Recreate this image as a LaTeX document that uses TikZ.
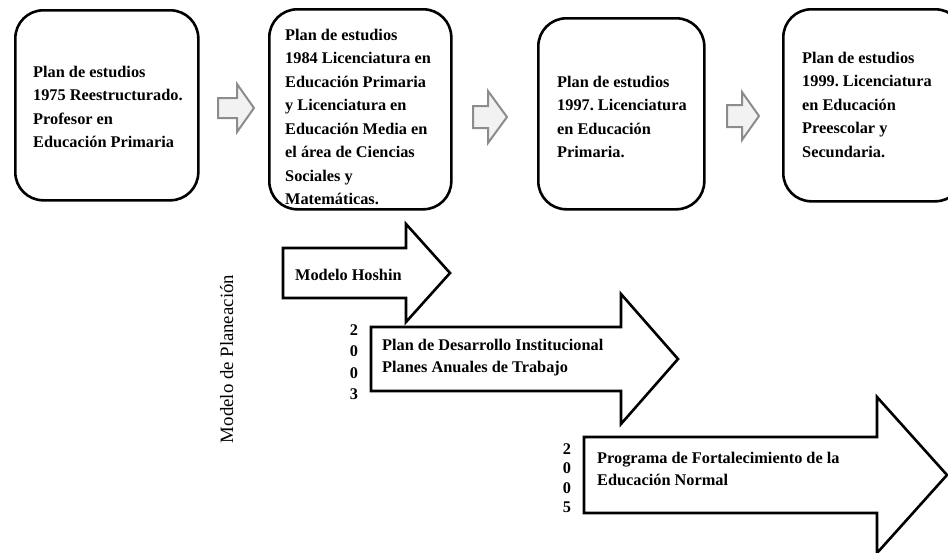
\documentclass[tikz,border=0pt]{standalone}
\usepackage{fontspec}
\newfontfamily\tnr{Liberation Serif}
\newcommand\tallstrut{\rule{0pt}{12pt}}
\begin{document}
\frenchspacing
\begin{tikzpicture}[x=1pt,y=-1pt,
  stage/.style={draw=black, line width=2.6pt, rounded corners=28pt, fill=white,
    anchor=north west, inner sep=0pt},
  stagetext/.style={anchor=north west, align=left, inner sep=0pt,
    font=\tnr\bfseries\fontsize{16.3}{23.5}\selectfont},
  arrowtext/.style={anchor=north west, align=left, inner sep=0pt,
    font=\tnr\bfseries\fontsize{16.3}{22}\selectfont},
  yeartext/.style={anchor=north, align=center, inner sep=0pt,
    font=\tnr\bfseries\fontsize{16.3}{#1}\selectfont},
  steparrow/.style={draw=black!45, fill=black!5, line width=2pt, line join=miter},
  blockarrow/.style={draw=black, fill=white, line width=2.6pt, line join=miter}
]
\useasboundingbox (0,0) rectangle (948,552);
\clip (0,0) rectangle (948,552);

% study-plan boxes
\node[stage, minimum width=183pt, minimum height=190pt] (p1975) at (14,9) {};
\node[stage, minimum width=182pt, minimum height=200pt] (p1984) at (268,8) {};
\node[stage, minimum width=166pt, minimum height=191pt] (p1997) at (537,17) {};
\node[stage, minimum width=180pt, minimum height=192pt] (p1999) at (782,8) {};

\node[stagetext] (t1975) at (33,65) {\tallstrut Plan de estudios\\1975 Reestructurado.\\Profesor en\\Educación Primaria};
\node[stagetext] (t1984) at (285,28) {\tallstrut Plan de estudios\\1984 Licenciatura en\\Educación Primaria\\y Licenciatura en\\Educación Media en\\el área de Ciencias\\Sociales y\\Matemáticas.};
\node[stagetext] (t1997) at (557,75) {\tallstrut Plan de estudios\\1997. Licenciatura\\en Educación\\Primaria.};
\node[stagetext] (t1999) at (802,51) {\tallstrut Plan de estudios\\1999. Licenciatura\\en Educación\\Preescolar y\\Secundaria.};

% grey step arrows between the boxes
\draw[steparrow] (218,98) -- (237,98) -- (237,84) -- (254,108) -- (237,132) -- (237,118) -- (218,118) -- cycle;
\draw[steparrow] (473,106) -- (488,106) -- (488,91) -- (507,117) -- (488,143) -- (488,128) -- (473,128) -- cycle;
\draw[steparrow] (727,105) -- (742,105) -- (742,92) -- (759,116) -- (742,140) -- (742,127) -- (727,127) -- cycle;

% planning models as block arrows
\draw[blockarrow] (283,248) -- (406,248) -- (406,224) -- (450,273) -- (406,322) -- (406,298) -- (283,298) -- cycle;
\draw[blockarrow] (371,327) -- (621,327) -- (621,294) -- (678,359) -- (621,424) -- (621,391) -- (371,391) -- cycle;
\draw[blockarrow] (584,437) -- (877,437) -- (877,397) -- (947,475) -- (877,553) -- (877,513) -- (584,513) -- cycle;

\node[arrowtext] (hoshin) at (295,268) {\tallstrut Modelo Hoshin};
\node[arrowtext] (pdi) at (382,338) {\tallstrut Plan de Desarrollo Institucional\\Planes Anuales de Trabajo};
\node[arrowtext] (pfen) at (597,451) {\tallstrut Programa de Fortalecimiento de la\\Educación Normal};

\node[yeartext=21.5] (y2003) at (354,323) {\tallstrut 2\\0\\0\\3};
\node[yeartext=19.5] (y2005) at (567,442) {\tallstrut 2\\0\\0\\5};

% side label
\node[rotate=90, anchor=base, inner sep=0pt, font=\tnr\fontsize{18.8}{22}\selectfont] (modelo) at (233,359) {Modelo de Planeación};
\end{tikzpicture}
\end{document}
